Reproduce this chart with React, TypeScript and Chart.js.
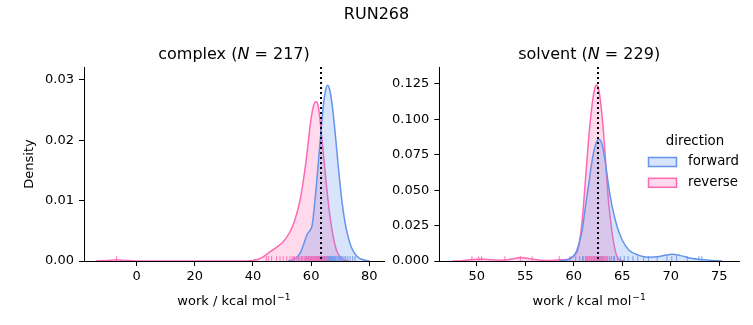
import React, { useEffect, useRef } from "react";
import { Chart, registerables } from "chart.js";

Chart.register(...registerables);

const W = 753;
const H = 325;
const FONT = "'DejaVu Sans', 'Liberation Sans', sans-serif";
const BLUE = "#6495ED";
const PINK = "#FF69B4";
const BLUE_FILL = "rgba(100,149,237,0.25)";
const PINK_FILL = "rgba(255,105,180,0.25)";

// ---------------- data ----------------
const figureTitle = "RUN268";
const directionLabels = ["forward", "reverse"];
const legendTitle = "direction";
const xLabel = ["work / kcal mol", "−1"];
const yLabel = "Density";

// complex panel
const complexTitle = ["complex (", "N", " = 217)"];
const complexXTicks = [0, 20, 40, 60, 80];
const complexYTicks = [0, 0.01, 0.02, 0.03];
const complexXLimits = [-18.1, 85.05];
const complexYLimits = [0, 0.0321];
const complexMarker = 63.4;

const complexForwardX = [52.0, 54.5, 56.2, 57.6, 58.6, 59.5, 60.3, 61.0, 61.8, 62.6, 63.4, 64.2, 64.9, 65.6, 66.4, 67.3, 68.3, 69.3, 70.4, 71.5, 72.6, 73.9, 75.7, 77.9, 80.2];
const complexForwardY = [0, 0.0004, 0.0013, 0.0030, 0.0044, 0.0050, 0.0058, 0.0085, 0.0125, 0.0170, 0.0215, 0.0258, 0.0281, 0.0291, 0.0283, 0.0256, 0.0210, 0.0158, 0.0107, 0.0068, 0.0042, 0.0022, 0.0008, 0.0002, 0];

const complexReverseX = [-14, -10, -7, -4, 0, 20, 38, 41.8, 43.5, 45.8, 48.2, 50.4, 52.7, 54.4, 56.2, 57.5, 58.7, 59.6, 60.7, 61.7, 62.5, 63.3, 64.2, 65.3, 66.5, 67.6, 68.7, 69.9, 71.6, 73];
const complexReverseY = [0, 0.0001, 0.0002, 0.0001, 0, 0, 0, 0.0003, 0.0007, 0.0015, 0.0023, 0.0032, 0.0048, 0.0068, 0.0101, 0.0139, 0.0183, 0.0222, 0.0255, 0.0264, 0.0255, 0.0222, 0.0178, 0.0123, 0.0073, 0.0040, 0.0018, 0.0007, 0.0001, 0];

const complexForwardRug = [54.1, 55.6, 56.8, 57.9, 58.6, 59.2, 59.8, 60.3, 60.9, 61.4, 61.8, 62.2, 62.6, 63.0, 63.3, 63.6, 63.9, 64.2, 64.5, 64.7, 65.0, 65.2, 65.5, 65.7, 65.9, 66.1, 66.3, 66.6, 66.8, 67.0, 67.3, 67.6, 67.9, 68.2, 68.5, 68.9, 69.3, 69.8, 70.2, 70.7, 71.3, 71.9, 72.6, 73.4, 74.3, 75.1];
const complexReverseRug = [-6.9, 44.6, 45.3, 46.4, 48.1, 49.3, 50.4, 51.6, 52.7, 53.5, 54.2, 54.9, 55.5, 56.1, 56.6, 57.1, 57.6, 58.0, 58.4, 58.8, 59.2, 59.5, 59.8, 60.1, 60.4, 60.7, 61.0, 61.3, 61.6, 61.9, 62.2, 62.5, 62.8, 63.1, 63.4, 63.8, 64.2, 64.6, 65.1, 65.6, 66.2, 67.0];

// solvent panel
const solventTitle = ["solvent (", "N", " = 229)"];
const solventXTicks = [50, 55, 60, 65, 70, 75];
const solventYTicks = [0, 0.025, 0.05, 0.075, 0.1, 0.125];
const solventXLimits = [46.14, 77.03];
const solventYLimits = [0, 0.137];
const solventMarker = 62.5;

const solventForwardX = [58.4, 59.5, 60.17, 60.5, 60.87, 61.2, 61.55, 61.9, 62.24, 62.58, 62.93, 63.27, 63.6, 63.96, 64.47, 64.99, 65.67, 66.7, 67.7, 68.6, 69.4, 70.1, 71.0, 72.2, 73.2, 74.3, 75.3];
const solventForwardY = [0, 0.0012, 0.0054, 0.0113, 0.0219, 0.0383, 0.0549, 0.0713, 0.0819, 0.0859, 0.0819, 0.069, 0.0525, 0.0383, 0.0242, 0.0148, 0.0078, 0.0040, 0.0027, 0.0030, 0.0040, 0.0047, 0.0038, 0.0018, 0.0011, 0.0004, 0];

const solventReverseX = [47.5, 48.5, 49.5, 50.5, 51.5, 52.5, 53.5, 54.5, 55.5, 56.5, 57.5, 58.5, 59.3, 59.9, 60.5, 60.87, 61.2, 61.55, 61.9, 62.17, 62.34, 62.58, 62.82, 63.1, 63.34, 63.6, 63.96, 64.3, 64.64, 65.2];
const solventReverseY = [0, 0.0002, 0.0010, 0.0015, 0.0008, 0.0006, 0.0012, 0.0025, 0.0015, 0.0006, 0.0004, 0.0008, 0.0010, 0.003, 0.010, 0.029, 0.057, 0.0877, 0.111, 0.122, 0.1243, 0.1207, 0.109, 0.0877, 0.064, 0.0407, 0.0196, 0.0066, 0.0012, 0];

const solventForwardRug = [59.6, 60.2, 60.6, 60.9, 61.2, 61.4, 61.6, 61.8, 62.0, 62.1, 62.3, 62.4, 62.5, 62.6, 62.7, 62.8, 62.9, 63.0, 63.1, 63.3, 63.5, 63.7, 63.9, 64.2, 64.5, 64.8, 65.2, 65.6, 66.1, 66.6, 67.2, 67.7, 68.6, 69.6, 70.1, 70.6, 71.7, 72.9, 73.2];
const solventReverseRug = [49.5, 50.2, 50.5, 52.9, 54.5, 55.7, 58.5, 60.6, 61.0, 61.3, 61.5, 61.7, 61.8, 61.9, 62.0, 62.1, 62.2, 62.3, 62.4, 62.5, 62.6, 62.7, 62.8, 62.9, 63.0, 63.2, 63.4, 63.7, 64.1];

// ---------------- panels ----------------
type Panel = {
  title: string[];
  xTicks: number[];
  yTicks: number[];
  xLim: number[];
  yLim: number[];
  marker: number;
  curves: { x: number[]; y: number[] }[];
  rugs: number[][];
  yDecimals: number;
  box: { padLeft: number; padRight: number; yAxisWidth: number };
  showYLabel: boolean;
  showSuptitle: boolean;
  showLegend: boolean;
};

const panels: Panel[] = [
  {
    title: complexTitle,
    xTicks: complexXTicks,
    yTicks: complexYTicks,
    xLim: complexXLimits,
    yLim: complexYLimits,
    marker: complexMarker,
    curves: [
      { x: complexForwardX, y: complexForwardY },
      { x: complexReverseX, y: complexReverseY },
    ],
    rugs: [complexForwardRug, complexReverseRug],
    yDecimals: 2,
    box: { padLeft: 0, padRight: W - 384, yAxisWidth: 84 },
    showYLabel: true,
    showSuptitle: true,
    showLegend: false,
  },
  {
    title: solventTitle,
    xTicks: solventXTicks,
    yTicks: solventYTicks,
    xLim: solventXLimits,
    yLim: solventYLimits,
    marker: solventMarker,
    curves: [
      { x: solventForwardX, y: solventForwardY },
      { x: solventReverseX, y: solventReverseY },
    ],
    rugs: [solventForwardRug, solventReverseRug],
    yDecimals: 3,
    box: { padLeft: 385, padRight: W - 739, yAxisWidth: 54.3 },
    showYLabel: false,
    showSuptitle: false,
    showLegend: true,
  },
];

const lineColors = [BLUE, PINK];
const fillColors = [BLUE_FILL, PINK_FILL];

function drawRich(ctx: CanvasRenderingContext2D, segs: string[], cx: number, y: number, size: number) {
  const fonts = segs.map((_, i) => `${i === 1 ? "italic " : ""}${size}px ${FONT}`);
  const widths = segs.map((s, i) => {
    ctx.font = fonts[i];
    return ctx.measureText(s).width;
  });
  const total = widths.reduce((a, b) => a + b, 0);
  let x = cx - total / 2;
  ctx.textAlign = "left";
  ctx.textBaseline = "alphabetic";
  segs.forEach((s, i) => {
    ctx.font = fonts[i];
    ctx.fillText(s, x, y);
    x += widths[i];
  });
}

function drawXLabel(ctx: CanvasRenderingContext2D, cx: number, y: number) {
  const mainFont = `13px ${FONT}`;
  const supFont = `9.2px ${FONT}`;
  ctx.font = mainFont;
  const w0 = ctx.measureText(xLabel[0]).width;
  ctx.font = supFont;
  const w1 = ctx.measureText(xLabel[1]).width;
  const x0 = cx - (w0 + w1 + 1) / 2;
  ctx.textAlign = "left";
  ctx.textBaseline = "alphabetic";
  ctx.font = mainFont;
  ctx.fillText(xLabel[0], x0, y);
  ctx.font = supFont;
  ctx.fillText(xLabel[1], x0 + w0 + 1, y - 5.5);
}

function makePlugin(p: Panel) {
  return {
    id: "panelDecor",
    afterDatasetsDraw(chart: any) {
      const { ctx, chartArea: a } = chart;
      const xs = chart.scales.x;
      ctx.save();
      ctx.beginPath();
      ctx.rect(a.left, a.top, a.right - a.left, a.bottom - a.top);
      ctx.clip();
      const rugH = (a.bottom - a.top) * 0.025;
      p.rugs.forEach((vals, k) => {
        ctx.strokeStyle = lineColors[k];
        ctx.globalAlpha = 0.9;
        ctx.lineWidth = 1;
        ctx.beginPath();
        vals.forEach((v) => {
          const px = xs.getPixelForValue(v);
          ctx.moveTo(px, a.bottom);
          ctx.lineTo(px, a.bottom - rugH);
        });
        ctx.stroke();
      });
      ctx.globalAlpha = 1;
      const mx = xs.getPixelForValue(p.marker);
      ctx.setLineDash([2, 3]);
      ctx.strokeStyle = "#000";
      ctx.lineWidth = 2;
      ctx.beginPath();
      ctx.moveTo(mx, a.top);
      ctx.lineTo(mx, a.bottom);
      ctx.stroke();
      ctx.restore();
    },
    afterDraw(chart: any) {
      const { ctx, chartArea: a } = chart;
      ctx.save();
      ctx.fillStyle = "#000";
      drawRich(ctx, p.title, (a.left + a.right) / 2, 59, 16);
      drawXLabel(ctx, (a.left + a.right) / 2, 305);
      if (p.showSuptitle) {
        ctx.font = `16px ${FONT}`;
        ctx.textAlign = "center";
        ctx.textBaseline = "alphabetic";
        ctx.fillText(figureTitle, W / 2, 19);
      }
      if (p.showLegend) {
        ctx.font = `13.3px ${FONT}`;
        ctx.textAlign = "center";
        ctx.textBaseline = "middle";
        ctx.fillText(legendTitle, 695, 142);
        const rows = [162, 182.8];
        directionLabels.forEach((lab, i) => {
          const cy = rows[i];
          ctx.fillStyle = fillColors[i];
          ctx.fillRect(648.5, cy - 4.5, 28, 9);
          ctx.strokeStyle = lineColors[i];
          ctx.lineWidth = 1.5;
          ctx.strokeRect(648.5, cy - 4.5, 28, 9);
          ctx.fillStyle = "#000";
          ctx.textAlign = "left";
          ctx.fillText(lab, 688, cy);
        });
      }
      ctx.restore();
    },
  };
}

function makeConfig(p: Panel): any {
  const tickFont = { family: FONT, size: 13 };
  return {
    type: "line",
    data: {
      datasets: p.curves.map((c, i) => ({
        label: directionLabels[i],
        data: c.x.map((x, j) => ({ x, y: c.y[j] })),
        borderColor: lineColors[i],
        backgroundColor: fillColors[i],
        borderWidth: 1.5,
        fill: "origin",
        pointRadius: 0,
        cubicInterpolationMode: "monotone",
      })),
    },
    options: {
      animation: false,
      responsive: false,
      maintainAspectRatio: false,
      devicePixelRatio: 1,
      events: [],
      layout: { padding: { left: p.box.padLeft, right: p.box.padRight, top: 67, bottom: 0 } },
      plugins: { legend: { display: false }, title: { display: false }, tooltip: { enabled: false } },
      scales: {
        x: {
          type: "linear",
          min: p.xLim[0],
          max: p.xLim[1],
          z: 1,
          afterBuildTicks: (s: any) => {
            s.ticks = p.xTicks.map((v) => ({ value: v }));
          },
          afterFit: (s: any) => {
            s.height = 64;
          },
          grid: { drawOnChartArea: false, drawTicks: true, tickLength: 5, tickColor: "#000", tickWidth: 1 },
          border: { display: true, color: "#000", width: 1 },
          ticks: {
            color: "#000",
            font: tickFont,
            padding: 3,
            maxRotation: 0,
            autoSkip: false,
            callback: (v: any) => String(v),
          },
          title: { display: false },
        },
        y: {
          type: "linear",
          min: p.yLim[0],
          max: p.yLim[1],
          z: 1,
          afterBuildTicks: (s: any) => {
            s.ticks = p.yTicks.map((v) => ({ value: v }));
          },
          afterFit: (s: any) => {
            s.width = p.box.yAxisWidth;
          },
          grid: { drawOnChartArea: false, drawTicks: true, tickLength: 5, tickColor: "#000", tickWidth: 1 },
          border: { display: true, color: "#000", width: 1 },
          ticks: {
            color: "#000",
            font: tickFont,
            padding: 5,
            autoSkip: false,
            callback: (v: any) => Number(v).toFixed(p.yDecimals),
          },
          title: {
            display: p.showYLabel,
            text: yLabel,
            color: "#000",
            font: tickFont,
            padding: { top: 22, bottom: 0 },
          },
        },
      },
    },
    plugins: [makePlugin(p)],
  };
}

function PanelCanvas({ panel }: { panel: Panel }) {
  const ref = useRef<HTMLCanvasElement | null>(null);
  useEffect(() => {
    if (!ref.current) return;
    const chart = new Chart(ref.current, makeConfig(panel));
    return () => chart.destroy();
  }, [panel]);
  return (
    <canvas
      ref={ref}
      width={W}
      height={H}
      style={{ position: "absolute", left: 0, top: 0, width: W, height: H }}
    />
  );
}

export default function App() {
  return (
    <div style={{ position: "absolute", left: 0, top: 0, width: W, height: H, background: "#fff", overflow: "hidden" }}>
      {panels.map((p, i) => (
        <PanelCanvas key={i} panel={p} />
      ))}
    </div>
  );
}
